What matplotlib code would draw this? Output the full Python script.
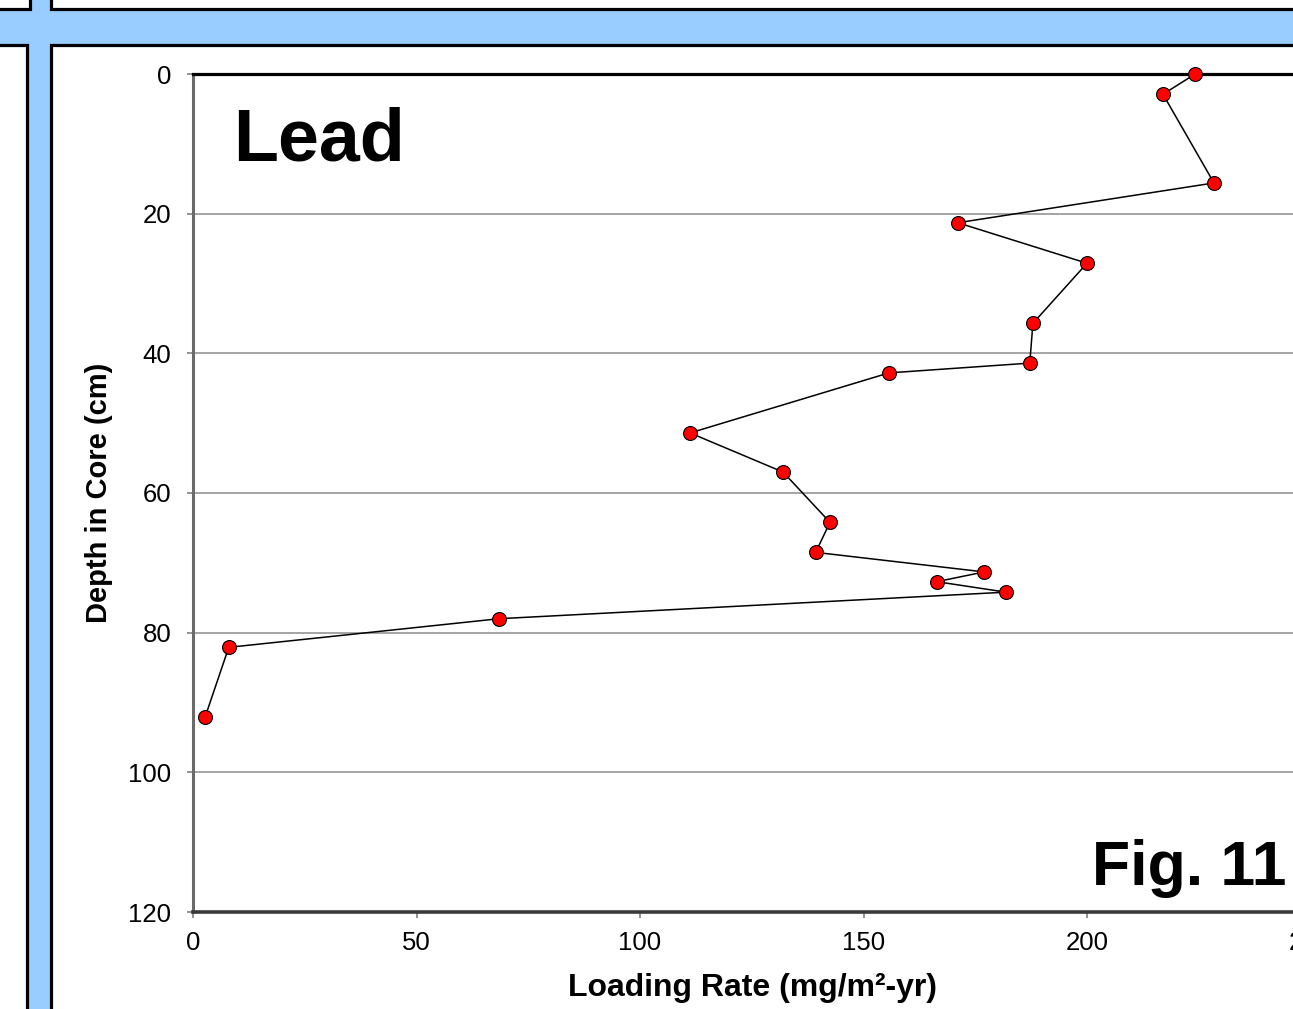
import matplotlib.pyplot as plt
from matplotlib.patches import Rectangle

plt.rcParams['font.family'] = ['Liberation Sans', 'DejaVu Sans']

# core data
depth = [0, 2.9, 15.6, 21.3, 27.1, 35.7, 41.4, 42.8, 51.4, 57.0,
         64.2, 68.5, 71.3, 72.7, 74.2, 78.0, 82.1, 92.1]
loading = [224.2, 217.0, 228.4, 171.1, 200.0, 187.9, 187.2, 155.7, 111.2, 132.0,
           142.5, 139.3, 177.0, 166.4, 181.9, 68.5, 8.0, 2.7]
xticks = [0, 50, 100, 150, 200, 250]
yticks = [0, 20, 40, 60, 80, 100, 120]

W, H = 1293, 1009
fig = plt.figure(figsize=(W / 100, H / 100), dpi=100)

# slide frame: blue cross with white panels
bg = fig.add_axes([0, 0, 1, 1], zorder=-1)
bg.set_xlim(0, W)
bg.set_ylim(H, 0)
bg.axis('off')
bg.add_patch(Rectangle((0, 0), W, H, facecolor='#99CCFF', edgecolor='none'))
panels = [(-10, -10, 40, 18.5), (50.5, -10, 1300, 18.5),
          (50.5, 45, 1300, 1000), (-10, 45, 36.5, 1000)]
for px, py, pw, ph in panels:
    bg.add_patch(Rectangle((px, py), pw, ph, facecolor='white',
                           edgecolor='black', linewidth=2.3))

ax = fig.add_axes([193 / W, 1 - 912 / H, 1117.5 / W, 838 / H])
ax.plot(loading, depth, color='black', linewidth=1.1, marker='o',
        markersize=10, markerfacecolor='red', markeredgecolor='black',
        markeredgewidth=0.8, clip_on=False, zorder=3)

ax.set_xlim(0, 250)
ax.set_ylim(120, 0)
ax.set_xticks(xticks)
ax.set_yticks(yticks)
ax.tick_params(axis='both', labelsize=18.5, color='#808080', width=1.2,
               length=4.5, direction='out')
ax.tick_params(axis='y', pad=11)
ax.tick_params(axis='x', pad=9.5)
ax.yaxis.grid(True, color='#8c8c8c', linewidth=1.1)
ax.set_axisbelow(True)

ax.spines['top'].set_color('black')
ax.spines['top'].set_linewidth(2.3)
ax.spines['left'].set_color('#6a6a6a')
ax.spines['left'].set_linewidth(2.2)
ax.spines['bottom'].set_color('#3a3a3a')
ax.spines['bottom'].set_linewidth(2.6)
ax.spines['right'].set_visible(False)

ax.set_xlabel('Loading Rate (mg/m²-yr)', fontsize=23, fontweight='bold')
ax.set_ylabel('Depth in Core (cm)', fontsize=21, fontweight='bold')
ax.xaxis.set_label_coords(0.501, -0.073)
ax.yaxis.set_label_coords(-0.0716, 0.5)

ax.text(0.0358, 0.897, 'Lead', transform=ax.transAxes, fontsize=53,
        fontweight='bold', ha='left', va='baseline')
ax.text(0.9781, 0.0322, 'Fig. 11', transform=ax.transAxes, fontsize=45,
        fontweight='bold', ha='right', va='baseline')

fig.savefig('out.png', dpi=100)
